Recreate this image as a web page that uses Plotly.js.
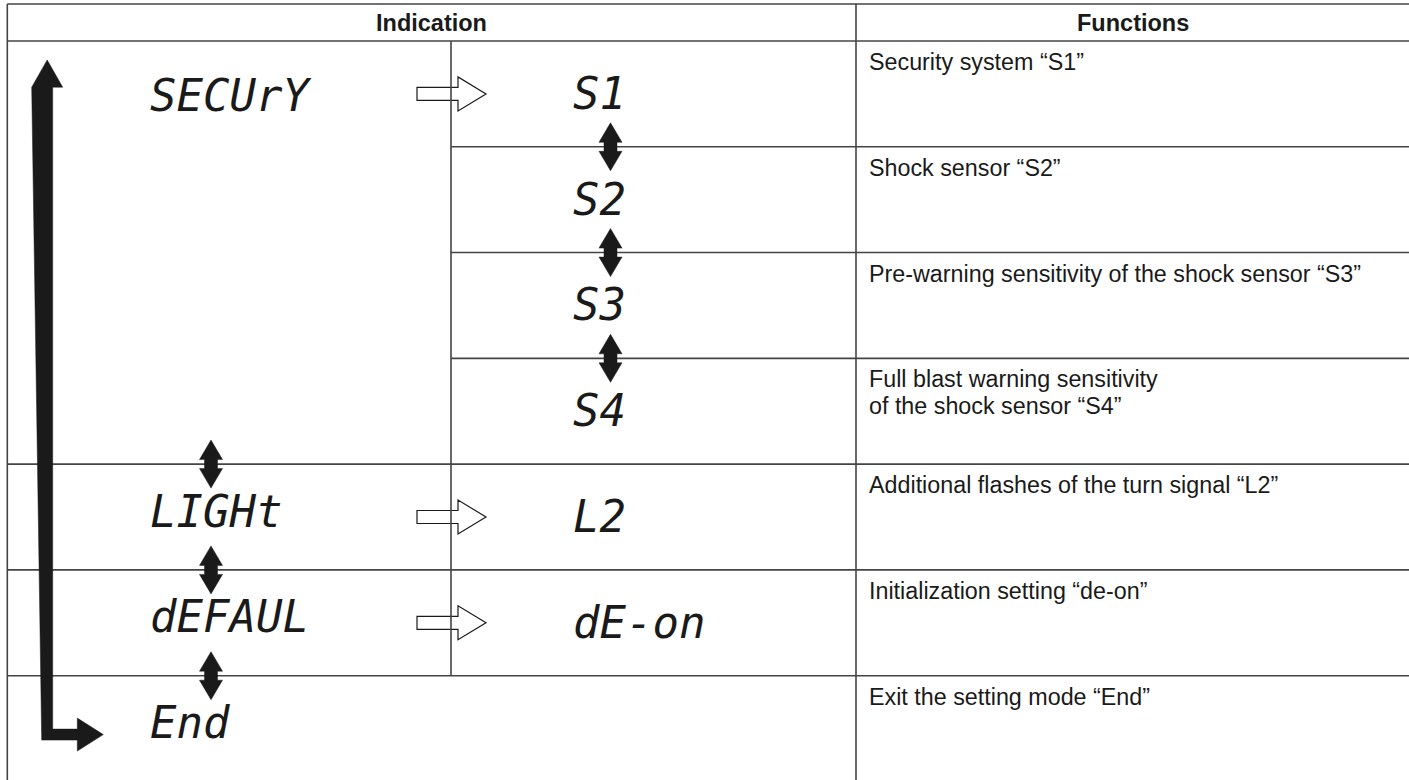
<!DOCTYPE html>
<html>
<head>
<meta charset="utf-8">
<script src="https://cdn.plot.ly/plotly-3.0.1.min.js"></script>
<style>html,body{margin:0;padding:0;background:#fff;}#chart{width:1409px;height:780px;}</style>
</head>
<body>
<div id="chart"></div>
<script>
// ---- content (data) ----
const headerLabels = ["Indication", "Functions"];
const menuLabels = ["SECUrY", "LIGHt", "dEFAUL", "End"];
const menuRows = [0, 4, 5, 6];
const subLabels = ["S1", "S2", "S3", "S4", "L2", "dE-on", ""];
const functionLabels = [
  "Security system \u201cS1\u201d",
  "Shock sensor \u201cS2\u201d",
  "Pre-warning sensitivity of the shock sensor \u201cS3\u201d",
  "Full blast warning sensitivity<br>of the shock sensor \u201cS4\u201d",
  "Additional flashes of the turn signal \u201cL2\u201d",
  "Initialization setting \u201cde-on\u201d",
  "Exit the setting mode \u201cEnd\u201d"
];

// ---- geometry / style ----
const W = 1409, H = 780;
const TOP = 4, HEAD = 41, LEFT = 7.3, RIGHT = W;
const MIDX = 451, FUNCX = 856;
const nRows = functionLabels.length;
const ROWH = 105.78;
const rowTop = i => HEAD + i * ROWH;
const rowCenter = i => HEAD + (i + 0.5) * ROWH;
const lineColor = "#444";
const lineW = 1.6;
const ink = "#1a1a1a";
const segFont = {family: "DejaVu Sans Mono", size: 44, color: ink, style: "italic"};
const txtFont = {family: "Liberation Sans, Arial, sans-serif", size: 23.3, color: ink};
const hdrFont = {family: "Liberation Sans, Arial, sans-serif", size: 23.5, color: ink, weight: 700};
const LINE_PITCH = 27;

const shapes = [];
const annotations = [];

function line(x0, y0, x1, y1) {
  shapes.push({type: "line", xref: "x", yref: "y", x0, y0, x1, y1,
    line: {color: lineColor, width: lineW}, layer: "above"});
}
function path(d, fill, lc, lw) {
  shapes.push({type: "path", xref: "x", yref: "y", path: d, fillcolor: fill,
    line: {color: lc, width: lw}, layer: "above"});
}
const P = pts => "M" + pts.map(p => p[0].toFixed(1) + "," + p[1].toFixed(1)).join(" L") + " Z";

// group of each row (which menu item it belongs to)
const rowGroup = [];
for (let r = 0; r < nRows; r++) {
  let g = 0;
  menuRows.forEach((mr, k) => { if (r >= mr) g = k; });
  rowGroup.push(g);
}

// hollow arrows (menu item -> sub item), drawn under the grid lines
menuRows.forEach((r, k) => {
  if (!subLabels[r]) return;
  const cy = rowCenter(r);
  path(P([[417, cy - 6.5], [458, cy - 6.5], [458, cy - 17], [486, cy], [458, cy + 17],
          [458, cy + 6.5], [417, cy + 6.5]]), "#ffffff", ink, 1.2);
});

// grid lines
line(LEFT, TOP, RIGHT, TOP);
line(LEFT, HEAD, RIGHT, HEAD);
line(LEFT, TOP, LEFT, H + 5);
line(FUNCX, TOP, FUNCX, H + 5);
const lastSubRow = subLabels.reduce((a, s, i) => s ? i : a, 0);
line(MIDX, HEAD, MIDX, rowTop(lastSubRow + 1));
for (let r = 1; r <= nRows; r++) {
  const full = menuRows.includes(r) || r === nRows;
  line(full ? LEFT : MIDX, rowTop(r), RIGHT, rowTop(r));
}

// double-headed arrows
function dbl(cx, cy) {
  path(P([[cx, cy - 24], [cx + 11.5, cy - 4.5], [cx + 6.5, cy - 4.5], [cx + 6.5, cy + 4.5],
          [cx + 11.5, cy + 4.5], [cx, cy + 24], [cx - 11.5, cy + 4.5], [cx - 6.5, cy + 4.5],
          [cx - 6.5, cy - 4.5], [cx - 11.5, cy - 4.5]]), ink, ink, 0.5);
}
for (let r = 1; r < nRows; r++) {
  if (rowGroup[r] === rowGroup[r - 1] && subLabels[r]) dbl(610.5, rowTop(r));
}
menuRows.forEach((r, k) => { if (k > 0) dbl(211, rowTop(r)); });

// big L-shaped return arrow
{
  const yTop = rowCenter(menuRows[0]) - 34;
  const yBot = rowCenter(menuRows[menuRows.length - 1]) + 6;
  const x0 = 41.7, x1 = 52.7;
  path(P([[31.7, yTop + 27.3], [47.2, yTop], [62.7, yTop + 27.3], [x1, yTop + 27.3],
          [x1, yBot - 5.5], [77.3, yBot - 5.5], [77.3, yBot - 16.5], [103.3, yBot],
          [77.3, yBot + 16.5], [77.3, yBot + 5.5], [x0, yBot + 5.5]]), ink, ink, 0.5);
}

// header texts
annotations.push({x: (LEFT + FUNCX) / 2, y: 23.3, text: headerLabels[0], font: hdrFont,
  xanchor: "center", yanchor: "middle"});
annotations.push({x: (FUNCX + RIGHT) / 2, y: 23.3, text: headerLabels[1], font: hdrFont,
  xanchor: "center", yanchor: "middle"});

// menu items (seven-segment style)
menuLabels.forEach((t, k) => {
  const r = menuRows[k];
  annotations.push({x: 148, y: rowCenter(r) + (k === 0 ? 1.4 : -6), text: t, font: segFont,
    xanchor: "left", yanchor: "middle"});
});
// sub items
subLabels.forEach((t, r) => {
  if (!t) return;
  annotations.push({x: 571, y: rowCenter(r) - 0.5, text: t, font: segFont,
    xanchor: "left", yanchor: "middle"});
});
// function descriptions (each line placed separately for tighter line pitch)
functionLabels.forEach((t, r) => {
  t.split("<br>").forEach((ln, j) => {
    annotations.push({x: 868, y: rowTop(r) + 7 + j * LINE_PITCH, text: ln, font: txtFont,
      xanchor: "left", yanchor: "top", align: "left", borderpad: 0});
  });
});
annotations.forEach(a => { a.xref = "x"; a.yref = "y"; a.showarrow = false; });

const layout = {
  width: W, height: H,
  margin: {l: 0, r: 0, t: 0, b: 0, pad: 0},
  paper_bgcolor: "#ffffff", plot_bgcolor: "#ffffff",
  xaxis: {range: [0, W], visible: false, fixedrange: true},
  yaxis: {range: [H, 0], visible: false, fixedrange: true},
  showlegend: false,
  shapes, annotations
};
Plotly.newPlot("chart", [], layout, {staticPlot: true, displayModeBar: false});
</script>
</body>
</html>
